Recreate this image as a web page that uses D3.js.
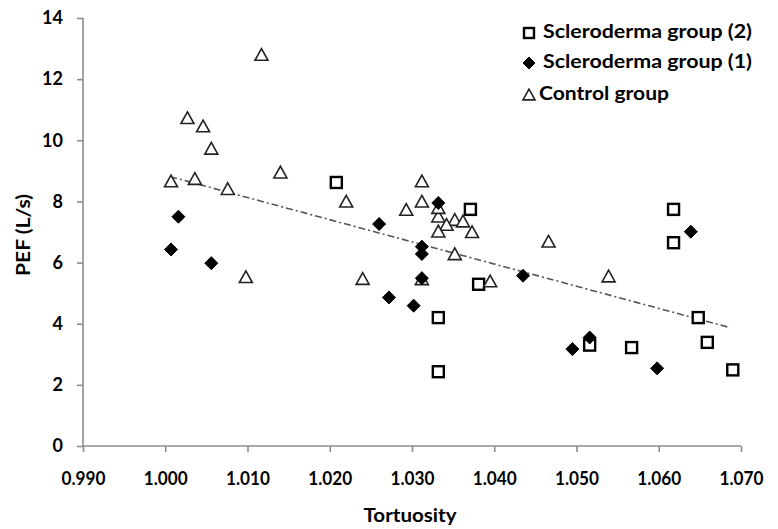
<!DOCTYPE html>
<html>
<head>
<meta charset="utf-8">
<script src="https://cdn.jsdelivr.net/npm/d3@7"></script>
<style>
  html, body { margin: 0; padding: 0; background: #fff; }
  svg text { font-family: Lato, "Open Sans", sans-serif; font-weight: bold; fill: #000; }
</style>
</head>
<body>
<div id="chart"></div>
<script>
// ---- Data ----
const xTicks = [0.990, 1.000, 1.010, 1.020, 1.030, 1.040, 1.050, 1.060, 1.070];
const yTicks = [0, 2, 4, 6, 8, 10, 12, 14];

const group2X = [1.0208, 1.0371, 1.0381, 1.0332, 1.0332, 1.0618, 1.0618, 1.0648, 1.0659, 1.0690, 1.0567, 1.0516];
const group2Y = [8.62, 7.74, 5.29, 4.20, 2.43, 7.74, 6.65, 4.20, 3.39, 2.49, 3.22, 3.30];

const group1X = [1.0016, 1.0007, 1.0056, 1.0260, 1.0272, 1.0302, 1.0312, 1.0312, 1.0312, 1.0332, 1.0435, 1.0495, 1.0516, 1.0598, 1.0639];
const group1Y = [7.50, 6.43, 5.98, 7.26, 4.86, 4.59, 6.52, 6.28, 5.49, 7.95, 5.57, 3.17, 3.55, 2.54, 7.01];

const controlX = [1.0007, 1.0036, 1.0076, 1.0140, 1.0098, 1.0117, 1.0027, 1.0046, 1.0056, 1.0220, 1.0293, 1.0312, 1.0312, 1.0240,
                  1.0332, 1.0352, 1.0362, 1.0342, 1.0332, 1.0373, 1.0352, 1.0395, 1.0332, 1.0312, 1.0466, 1.0539];
const controlY = [8.65, 8.73, 8.40, 8.94, 5.52, 12.79, 10.72, 10.45, 9.72, 7.99, 7.72, 8.65, 7.99, 5.46,
                  7.50, 7.39, 7.34, 7.23, 7.01, 6.99, 6.27, 5.38, 7.78, 5.45, 6.68, 5.54];

const trendX = [1.0006, 1.0687];
const trendY = [8.81, 3.87];

const legendLabels = ["Scleroderma group (2)", "Scleroderma group (1)", "Control group"];

// ---- Layout ----
const W = 778, H = 529;
const m = { left: 83, top: 18, right: 37, bottom: 83 };
const iw = W - m.left - m.right, ih = H - m.top - m.bottom;

const svg = d3.select("#chart").append("svg").attr("width", W).attr("height", H);
const g = svg.append("g").attr("transform", `translate(${m.left},${m.top})`);

const x = d3.scaleLinear().domain([0.99, 1.07]).range([0, iw]);
const y = d3.scaleLinear().domain([0, 14]).range([ih, 0]);

const axisColor = "#8c8c8c";
const tickFont = 18;
const labelFont = 18;

// Y axis
const yAxis = g.append("g").call(d3.axisLeft(y).tickValues(yTicks).tickFormat(d3.format("d")).tickSize(6).tickPadding(14));
// X axis
const xAxis = g.append("g").attr("transform", `translate(0,${ih})`)
  .call(d3.axisBottom(x).tickValues(xTicks).tickFormat(d3.format(".3f")).tickSize(6).tickPadding(20));

[yAxis, xAxis].forEach(a => {
  a.select(".domain").attr("stroke", axisColor).attr("stroke-width", 1.6);
  a.selectAll(".tick line").attr("stroke", axisColor).attr("stroke-width", 1.6);
  a.selectAll(".tick text").style("font-family", "Lato, 'Open Sans', sans-serif")
    .style("font-weight", "bold").style("font-size", tickFont + "px").attr("fill", "#000");
});
xAxis.selectAll(".tick text").attr("textLength", 44).attr("lengthAdjust", "spacingAndGlyphs");
xAxis.select(".domain").attr("d", `M0,0H${iw}`);
yAxis.select(".domain").attr("d", `M0,${ih}V0`);

// Axis titles
svg.append("text").attr("x", 410).attr("y", 517).attr("text-anchor", "middle")
  .attr("dominant-baseline", "middle").style("font-size", labelFont + "px")
  .attr("textLength", 93).attr("lengthAdjust", "spacingAndGlyphs").text("Tortuosity");
svg.append("text").attr("transform", "translate(25,235) rotate(-90)").attr("text-anchor", "middle")
  .attr("dominant-baseline", "middle").style("font-size", labelFont + "px")
  .attr("textLength", 82).attr("lengthAdjust", "spacingAndGlyphs").text("PEF (L/s)");

// Trend line
g.append("line")
  .attr("x1", x(trendX[0])).attr("y1", y(trendY[0]))
  .attr("x2", x(trendX[1])).attr("y2", y(trendY[1]))
  .attr("stroke", "#555").attr("stroke-width", 1.6)
  .attr("stroke-dasharray", "7,3,2,3");

// Marker shapes
const sq = 11, di = 13, tri = 13;
function drawSquare(sel, cx, cy, s) {
  sel.append("rect").attr("x", cx - s / 2).attr("y", cy - s / 2).attr("width", s).attr("height", s)
    .attr("fill", "#fff").attr("stroke", "#000").attr("stroke-width", 2.4);
}
function drawDiamond(sel, cx, cy, s) {
  const h = s / 2;
  sel.append("path").attr("d", `M${cx},${cy - h}L${cx + h},${cy}L${cx},${cy + h}L${cx - h},${cy}Z`)
    .attr("fill", "#000").attr("stroke", "#000").attr("stroke-width", 1);
}
function drawTriangle(sel, cx, cy, s) {
  const h = s * 0.9;
  sel.append("path").attr("d", `M${cx},${cy - h * 0.55}L${cx + s / 2},${cy + h * 0.45}L${cx - s / 2},${cy + h * 0.45}Z`)
    .attr("fill", "#fff").attr("stroke", "#222").attr("stroke-width", 1.6).attr("stroke-linejoin", "miter");
}

const pts = g.append("g");
group2X.forEach((v, i) => drawSquare(pts, x(v), y(group2Y[i]), sq));
controlX.forEach((v, i) => drawTriangle(pts, x(v), y(controlY[i]), tri));
group1X.forEach((v, i) => drawDiamond(pts, x(v), y(group1Y[i]), di));

// Legend
const leg = svg.append("g");
const legRows = [33, 63, 95];
drawSquare(leg, 529, legRows[0], 10);
drawDiamond(leg, 529, legRows[1], 12);
drawTriangle(leg, 529, legRows[2], 12);
const legTextX = [543, 543, 539];
const legTextLen = [209, 209, 130];
legendLabels.forEach((t, i) => {
  leg.append("text").attr("x", legTextX[i]).attr("y", legRows[i]).attr("dominant-baseline", "middle")
    .style("font-size", labelFont + "px")
    .attr("textLength", legTextLen[i]).attr("lengthAdjust", "spacingAndGlyphs").text(t);
});
</script>
</body>
</html>
